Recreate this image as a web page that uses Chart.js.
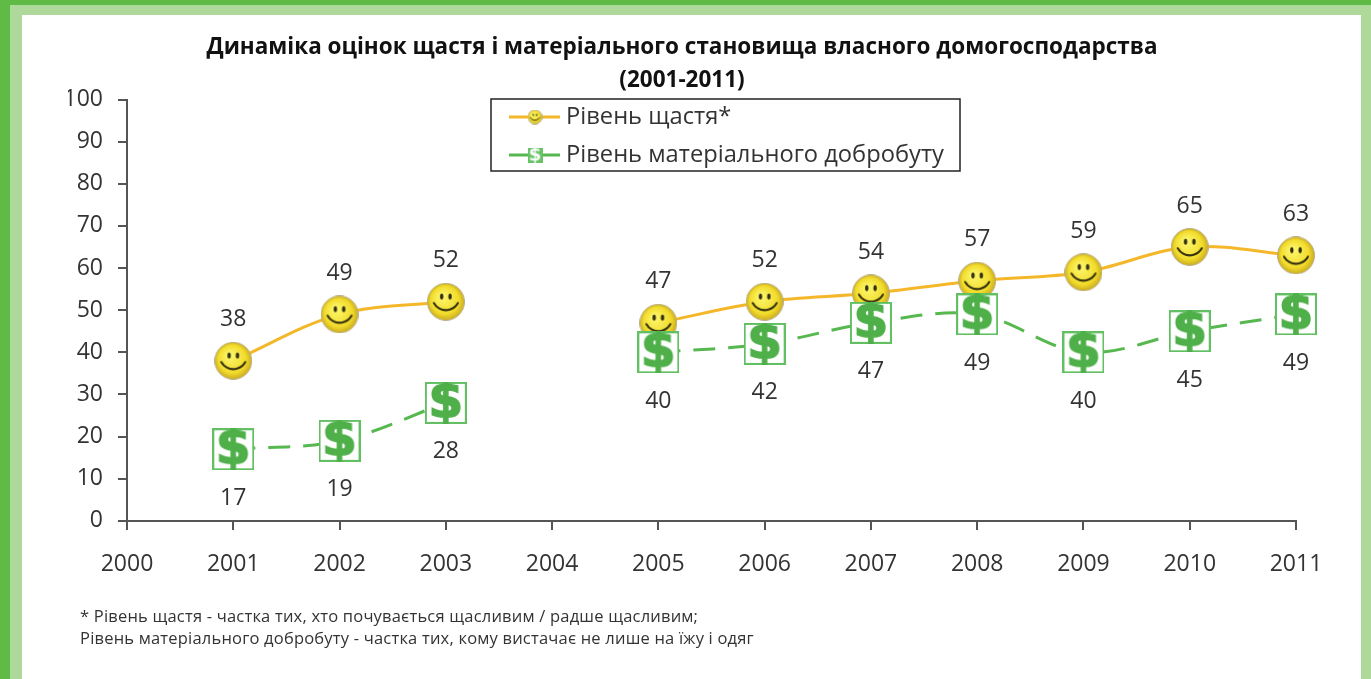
<!DOCTYPE html>
<html lang="uk">
<head>
<meta charset="utf-8">
<title>Динаміка оцінок щастя</title>
<script src="https://cdn.jsdelivr.net/npm/chart.js@4"></script>
<style>
	html, body { margin: 0; padding: 0; background: #fff; overflow: hidden; }
	#page { position: relative; width: 1371px; height: 679px; }
	.band { position: absolute; }
	#note {
		position: absolute; left: 80px; top: 605px; margin: 0;
		font: 16.5px/22px "Open Sans", sans-serif; letter-spacing: 0.2px; color: #333; white-space: nowrap;
	}
</style>
</head>
<body>
<div id="page">
	<canvas id="happyChart" width="1371" height="679" style="position:absolute;left:0;top:0"></canvas>
	<!-- page frame -->
	<div class="band" style="left:10px;top:5px;width:12px;height:674px;background:#afd89b"></div>
	<div class="band" style="left:10px;top:5px;width:1361px;height:10px;background:#afd89b"></div>
	<div class="band" style="left:1361px;top:5px;width:10px;height:674px;background:#afd89b"></div>
	<div class="band" style="left:0;top:0;width:10px;height:679px;background:#5fbb46"></div>
	<div class="band" style="left:0;top:0;width:1371px;height:5px;background:#5fbb46"></div>
	<p id="note">* Рівень щастя - частка тих, хто почувається щасливим / радше щасливим;<br>Рівень матеріального добробуту - частка тих, кому вистачає не лише на їжу і одяг</p>
</div>
<script>
// data block
const years = ['2000', '2001', '2002', '2003', '2004', '2005', '2006', '2007', '2008', '2009', '2010', '2011'];
const happiness = [null, 38, 49, 52, null, 47, 52, 54, 57, 59, 65, 63];
const wealth = [null, 17, 19, 28, null, 40, 42, 47, 49, 40, 45, 49];
const happinessLabel = 'Рівень щастя*';
const wealthLabel = 'Рівень матеріального добробуту';
const titleLines = ['Динаміка оцінок щастя і матеріального становища власного домогосподарства', '(2001-2011)'];

const FONT = '"Open Sans", sans-serif';
const ORANGE = '#f5b72a';
const GREEN = '#56b84f';

// marker images, used as pointStyle
function makeSmiley(d) {
	const c = document.createElement('canvas');
	c.width = c.height = d;
	const x = c.getContext('2d');
	const r = d / 2;
	const g = x.createRadialGradient(r * 0.8, r * 0.7, r * 0.1, r, r, r);
	g.addColorStop(0, '#fdf66a');
	g.addColorStop(0.7, '#f2dc2c');
	g.addColorStop(1, '#c9a81e');
	x.fillStyle = g;
	x.beginPath();
	x.arc(r, r, r - 0.5, 0, Math.PI * 2);
	x.fill();
	x.strokeStyle = '#b9b08a';
	x.lineWidth = 1;
	x.stroke();
	x.fillStyle = '#33300f';
	x.beginPath();
	x.ellipse(r * 0.78, r * 0.72, r * 0.09, r * 0.16, 0, 0, Math.PI * 2);
	x.ellipse(r * 1.22, r * 0.72, r * 0.09, r * 0.16, 0, 0, Math.PI * 2);
	x.fill();
	x.strokeStyle = '#33300f';
	x.lineWidth = Math.max(1, r * 0.11);
	x.lineCap = 'round';
	x.beginPath();
	x.arc(r, r * 0.72, r * 0.72, Math.PI * 0.16, Math.PI * 0.84);
	x.stroke();
	return c;
}

function makeDollar(d, solid) {
	const c = document.createElement('canvas');
	c.width = c.height = d;
	const x = c.getContext('2d');
	x.fillStyle = solid ? '#6cc56c' : '#fff';
	x.fillRect(0, 0, d, d);
	x.strokeStyle = '#62c062';
	x.lineWidth = d > 20 ? 2 : 1;
	x.strokeRect(1, 1, d - 2, d - 2);
	x.fillStyle = solid ? '#fff' : '#4fb04a';
	x.strokeStyle = x.fillStyle;
	x.lineWidth = 1.6;
	x.font = 'bold ' + Math.round(d * 1.18) + 'px "DejaVu Sans", sans-serif';
	x.textAlign = 'center';
	x.textBaseline = 'middle';
	x.fillText('$', d / 2, d / 2 + 1);
	if (!solid) x.strokeText('$', d / 2, d / 2 + 1);
	return c;
}

const smileyBig = makeSmiley(38);
const dollarBig = makeDollar(42, false);
const smileySmall = makeSmiley(15);
const dollarSmall = makeDollar(15, true);

// value labels above / below the markers
const valueLabels = {
	id: 'valueLabels',
	afterDatasetsDraw(chart) {
		const ctx = chart.ctx;
		ctx.save();
		ctx.font = '23px ' + FONT;
		ctx.fillStyle = '#333';
		ctx.textAlign = 'center';
		ctx.textBaseline = 'middle';
		[[0, -41], [1, 49]].forEach(([i, shift]) => {
			const values = chart.data.datasets[i].data;
			chart.getDatasetMeta(i).data.forEach((pt, k) => {
				if (values[k] !== null) ctx.fillText(values[k], pt.x, pt.y + shift);
			});
		});
		ctx.restore();
	},
};

// boxed legend with line + marker samples
const boxLegend = {
	id: 'boxLegend',
	afterDraw(chart) {
		const ctx = chart.ctx;
		ctx.save();
		ctx.strokeStyle = '#222';
		ctx.lineWidth = 1.5;
		ctx.fillStyle = '#fff';
		ctx.fillRect(491, 99, 469, 72);
		ctx.strokeRect(491, 99, 469, 72);
		ctx.font = '23.7px ' + FONT;
		ctx.textBaseline = 'middle';
		[[117, ORANGE, smileySmall], [155, GREEN, dollarSmall]].forEach(([y, color, img], i) => {
			ctx.strokeStyle = color;
			ctx.lineWidth = 3;
			ctx.beginPath();
			ctx.moveTo(509, y);
			ctx.lineTo(560, y);
			ctx.stroke();
			ctx.drawImage(img, 535 - img.width / 2, y - img.height / 2);
			ctx.fillStyle = '#333';
			ctx.fillText(chart.data.datasets[i].label, 566, y);
		});
		ctx.restore();
	},
};

const happyChart = new Chart(document.getElementById('happyChart'), {
	type: 'line',
	data: {
		labels: years,
		datasets: [
			{
				label: happinessLabel,
				data: happiness,
				borderColor: ORANGE,
				borderWidth: 3,
				tension: 0.35,
				pointStyle: smileyBig,
				order: 2,
				clip: false,
			},
			{
				label: wealthLabel,
				data: wealth,
				borderColor: GREEN,
				borderWidth: 3,
				borderDash: [22, 13],
				tension: 0.35,
				pointStyle: dollarBig,
				order: 1,
				clip: false,
			},
		],
	},
	options: {
		responsive: false,
		animation: false,
		layout: { padding: { left: 68, right: 75, bottom: 79.5 } },
		plugins: {
			legend: { display: false },
			tooltip: { enabled: false },
			title: {
				display: true,
				text: titleLines,
				color: '#111',
				font: { family: FONT, size: 22.5, weight: 'bold', lineHeight: 1.467 },
				padding: { top: 31, bottom: 2.5 },
			},
		},
		scales: {
			x: {
				offset: false,
				grid: { drawOnChartArea: false, color: '#555', tickLength: 9, lineWidth: 2 },
				border: { color: '#555', width: 2 },
				ticks: { color: '#333', font: { family: FONT, size: 23 }, padding: 21, maxRotation: 0, autoSkip: false },
			},
			y: {
				min: 0,
				max: 100,
				// keep the plot edge in place, labels may hang left of the box
				afterFit(scale) { scale.width = 59; },
				ticks: { stepSize: 10, color: '#333', font: { family: FONT, size: 23 }, padding: 15 },
				grid: { drawOnChartArea: false, color: '#555', tickLength: 9, lineWidth: 2 },
				border: { color: '#555', width: 2 },
			},
		},
	},
	plugins: [valueLabels, boxLegend],
});
</script>
</body>
</html>
